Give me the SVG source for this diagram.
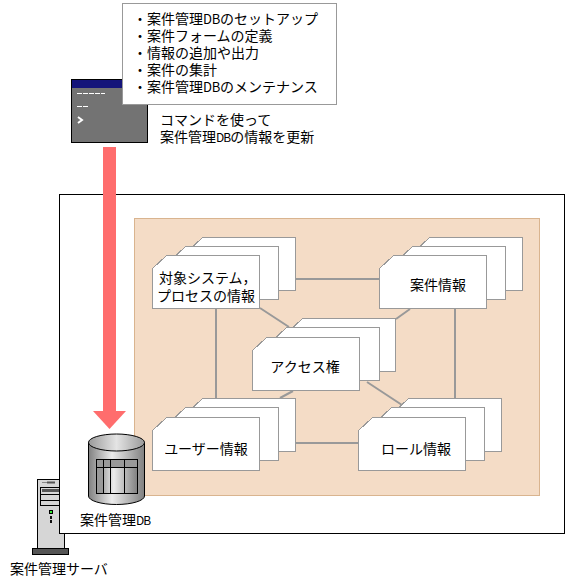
<svg xmlns="http://www.w3.org/2000/svg" width="567" height="587" viewBox="0 0 567 587">
<style>
text{font-family:"Noto Sans CJK JP","Liberation Sans",sans-serif;font-size:14px;fill:#000}
.c{text-anchor:middle}
.card{fill:#fff;stroke:#999;stroke-width:1;shape-rendering:crispEdges}
.link{stroke:#999;stroke-width:2;fill:none}
.w17{font-size:13px;letter-spacing:-.2px}
.w14{font-size:12px;letter-spacing:-1px}
.k{stroke:#000;stroke-width:1;shape-rendering:crispEdges}
</style>
<defs>
<path id="card" class="card" d="M0 13 L14 0 H107 V53 H0 Z"/>
<linearGradient id="cyl" x1="0" x2="1" y1="0" y2="0">
<stop offset="0" stop-color="#808080"/><stop offset="0.42" stop-color="#ececec"/><stop offset="1" stop-color="#808080"/>
</linearGradient>
<linearGradient id="lid" x1="0" x2="1" y1="0" y2="0">
<stop offset="0" stop-color="#9a9a9a"/><stop offset="0.5" stop-color="#e4e4e4"/><stop offset="1" stop-color="#9a9a9a"/>
</linearGradient>
</defs>
<rect width="567" height="587" fill="#fff"/>
<g id="server">
<rect class="k" x="37.500" y="479.500" width="27" height="69" fill="#d6d6d6"/>
<rect x="42" y="482" width="13" height="1" fill="#888"/>
<rect x="47" y="481.500" width="8" height="2" fill="#555"/>
<rect class="k" x="40.500" y="487.500" width="22" height="18" fill="#d6d6d6"/>
<rect x="42" y="489" width="20" height="3" fill="#555"/>
<path class="k" d="M40 494.500H62M40 500.500H62" fill="none"/>
<rect x="49" y="510" width="4" height="4" fill="#000"/>
<rect x="50" y="511" width="2" height="2" fill="#3e3"/>
<rect x="50" y="516" width="2" height="3" fill="#111"/>
<rect x="50" y="520" width="2" height="3" fill="#111"/>
<rect class="k" x="32.500" y="548.500" width="36" height="6" fill="#555"/>
</g>
<g id="server-frame"><rect class="k" x="59.500" y="194.500" width="505" height="339" fill="#fff"/></g>
<g id="peach-area"><rect x="134.500" y="218.500" width="405" height="277" fill="#f4dcc6" stroke="#d9b48f" stroke-width="1"/></g>
<g id="connectors">
<path class="link" d="M295 279H380M216 309V398M455 309V398M295 443H358M260 308L289 327M396 319L410 309M280 398L293 391M367 382L402 405"/>
<rect x="103" y="147" width="13" height="265" fill="#ff6d6d"/>
<polygon points="93,411 126,411 109.500,429" fill="#ff6d6d"/>
</g>
<g id="node-target"><use href="#card" x="188.500" y="237.500"/><use href="#card" x="171.500" y="246.500"/><use href="#card" x="152.500" y="255.500"/>
<text x="159" y="283">対象システム，</text><text x="157" y="301">プロセスの情報</text></g>
<g id="node-case"><use href="#card" x="415.500" y="237.500"/><use href="#card" x="398.500" y="246.500"/><use href="#card" x="379.500" y="255.500"/>
<text class="c" x="438" y="290">案件情報</text></g>
<g id="node-access"><use href="#card" x="288.500" y="318.500"/><use href="#card" x="272.500" y="327.500"/><use href="#card" x="252.500" y="337.500"/>
<text class="c" x="305" y="372">アクセス権</text></g>
<g id="node-user"><use href="#card" x="188.500" y="398.500"/><use href="#card" x="171.500" y="407.500"/><use href="#card" x="152.500" y="417.500"/>
<text class="c" x="206" y="454">ユーザー情報</text></g>
<g id="node-role"><use href="#card" x="394.500" y="398.500"/><use href="#card" x="377.500" y="407.500"/><use href="#card" x="358.500" y="417.500"/>
<text class="c" x="416" y="454">ロール情報</text></g>
<g id="node-db">
<path d="M88.500 442.500 V496 A28 8.500 0 0 0 144.500 496 V442.500 Z" fill="url(#cyl)" stroke="#000"/>
<ellipse cx="116.500" cy="442.500" rx="28" ry="8.500" fill="url(#lid)" stroke="#000"/>
<rect x="96.500" y="459.500" width="41" height="33.500" fill="url(#cyl)"/>
<rect x="96.500" y="459.500" width="41" height="7.500" fill="#999"/>
<rect x="96.500" y="459.500" width="7" height="33.500" fill="#999"/>
<rect class="k" x="96.500" y="459.500" width="41" height="33.500" fill="none"/>
<path class="k" d="M96.500 467H137.500M103.500 459.500V493M110.500 459.500V493M124.500 459.500V493" fill="none"/>
<text x="80" y="525">案件管理<tspan class="w14">DB</tspan></text>
</g>
<g id="node-terminal">
<rect class="k" x="71.500" y="79.500" width="76" height="63" fill="#737373"/>
<rect x="72" y="80" width="75" height="8" fill="#14147a"/>
<path d="M77 93.500H105M77 106.500H88" stroke="#fff" stroke-width="1" stroke-dasharray="5 1" fill="none"/>
<path d="M78 117L82 120L78 123" stroke="#fff" stroke-width="2" fill="none"/>
<text x="160" y="125">コマンドを使って</text>
<text x="160" y="142">案件管理<tspan class="w14">DB</tspan>の情報を更新</text>
</g>
<g id="node-tasks">
<rect class="k" x="122.500" y="3.500" width="214" height="101" fill="#fff" style="stroke:#999"/>
<text x="133" y="24">・案件管理<tspan class="w17">DB</tspan>のセットアップ</text>
<text x="133" y="41">・案件フォームの定義</text>
<text x="133" y="58">・情報の追加や出力</text>
<text x="133" y="75">・案件の集計</text>
<text x="133" y="92">・案件管理<tspan class="w17">DB</tspan>のメンテナンス</text>
</g>
<g id="label-server"><text x="10" y="574">案件管理サーバ</text></g>
</svg>
